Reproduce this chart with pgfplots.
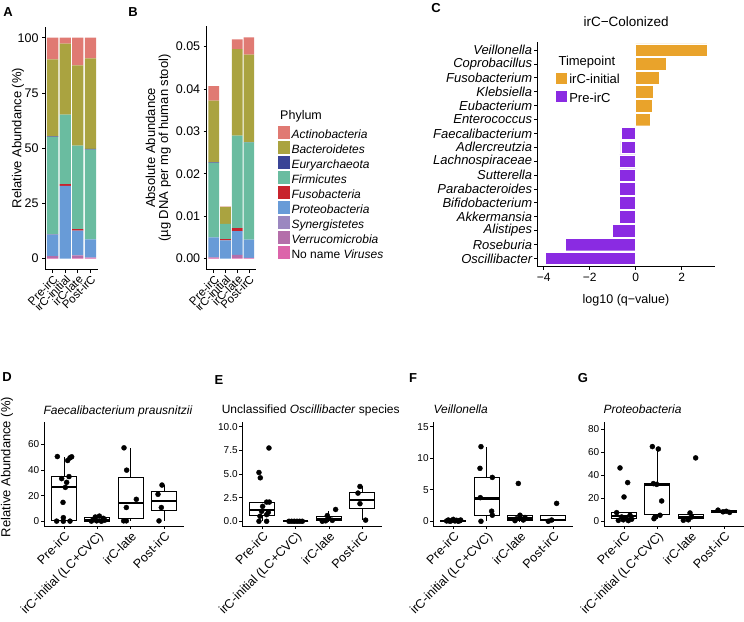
\documentclass[border=0pt]{standalone}
\usepackage{pgfplots}
\pgfplotsset{compat=1.18}
\usepgfplotslibrary{statistics}
\usepackage{fontspec}
\setmainfont{Liberation Sans}
\newcommand\fs[1]{\fontsize{#1}{#1}\selectfont}

\definecolor{actino}{HTML}{E07A73}
\definecolor{bacter}{HTML}{AAA340}
\definecolor{eury}{HTML}{3A4496}
\definecolor{firmi}{HTML}{6ABCA0}
\definecolor{fuso}{HTML}{C8232D}
\definecolor{proteo}{HTML}{689BD7}
\definecolor{synerg}{HTML}{9B87C0}
\definecolor{verru}{HTML}{B46EAA}
\definecolor{virus}{HTML}{DC64AA}
\definecolor{orng}{HTML}{E9A32B}
\definecolor{purp}{HTML}{8A2BE2}

\pgfplotsset{
  gg/.style={
    scale only axis, anchor=south west,
    axis x line*=bottom, axis y line*=left,
    axis line style={black, line width=0.9pt, -},
    tick align=outside, major tick length=3pt,
    tick style={black, line width=0.8pt},
    /pgf/number format/assume math mode=true,
    label style={font=\fs{13}},
  },
  bottom/.style={
    gg, width=140pt, height=104pt, xmin=0.4, xmax=4.6,
    xtick={1,2,3,4}, xticklabels={Pre-irC,irC-initial (LC+CVC),irC-late,Post-irC},
    xticklabel style={rotate=45, anchor=north east, font=\fs{12.5}, inner sep=1pt},
    yticklabel style={font=\fs{10}, inner sep=1.5pt},
    boxplot/draw direction=y,
    boxplot/every median/.style={line width=2.2pt},
  },
  bx/.style={boxplot prepared={#1, box extend=0.75, whisker extend=0}, draw=black, fill=white, line width=0.95pt, solid},
  pts/.style={only marks, mark=*, mark size=2.5pt, black},
}

\begin{document}
\begin{tikzpicture}
\useasboundingbox (0pt,0pt) rectangle (744pt,621pt);

% ---------- A ----------
\begin{axis}[gg, at={(45pt,351.3pt)}, width=53pt, height=243pt,
  xmin=0.4, xmax=4.6, ymin=-5, ymax=105,
  ybar stacked, bar width=0.9,
  xtick={1,2,3,4}, xticklabels={Pre-irC,irC-initial,irC-late,Post-irC},
  xticklabel style={rotate=45, anchor=north east, font=\fs{11.5}, inner sep=1pt},
  ytick={0,25,50,75,100}, yticklabel style={font=\fs{12.5}},
  ylabel={Relative Abundance (\%)},
  ylabel style={at={(axis description cs:-0.51,0.542)}, anchor=center},
]
\addplot[fill=virus, draw=none] coordinates {(1,0.2) (2,0) (3,0.3) (4,0.5)};
\addplot[fill=verru, draw=none] coordinates {(1,1.0) (2,0) (3,1.2) (4,0)};
\addplot[fill=synerg, draw=none] coordinates {(1,0) (2,0) (3,0) (4,0)};
\addplot[fill=proteo, draw=none] coordinates {(1,9.8) (2,33.0) (3,11.2) (4,8.2)};
\addplot[fill=fuso, draw=none] coordinates {(1,0.1) (2,0.7) (3,0.7) (4,0)};
\addplot[fill=firmi, draw=none] coordinates {(1,44.0) (2,31.5) (3,37.8) (4,40.7)};
\addplot[fill=eury, draw=none] coordinates {(1,0.3) (2,0) (3,0) (4,0.3)};
\addplot[fill=bacter, draw=none] coordinates {(1,34.8) (2,32.1) (3,36.3) (4,41.0)};
\addplot[fill=actino, draw=none] coordinates {(1,9.8) (2,2.7) (3,12.5) (4,9.3)};
\end{axis}

% ---------- B ----------
\begin{axis}[gg, at={(206.7pt,351.3pt)}, width=49.3pt, height=243.4pt,
  xmin=0.4, xmax=4.6, ymin=-0.0026, ymax=0.0548,
  ybar stacked, bar width=0.9,
  xtick={1,2,3,4}, xticklabels={Pre-irC,irC-initial,irC-late,Post-irC},
  xticklabel style={rotate=45, anchor=north east, font=\fs{11.5}, inner sep=1pt},
  ytick={0,0.01,0.02,0.03,0.04,0.05}, scaled y ticks=false,
  yticklabel style={font=\fs{12.5}, /pgf/number format/.cd, fixed, fixed zerofill, precision=2},
  ylabel={Absolute Abundance\\(µg DNA per mg of human stool)},
  ylabel style={at={(axis description cs:-0.98,0.5)}, anchor=center, align=center},
  reverse legend, legend cell align=left,
  legend image code/.code={\fill[#1] (0pt,-4pt) rectangle (12pt,8.5pt);},
  legend style={at={(axis description cs:1.432,0.59)}, anchor=north west,
    draw=none, fill=none, font=\fs{12}, row sep=-0.6pt, inner sep=0pt},
]
\addplot[fill=virus, draw=none] coordinates {(1,0.0001) (2,0) (3,0.0002) (4,0.0002)};
\addlegendentry{No name \textit{Viruses}}
\addplot[fill=verru, draw=none] coordinates {(1,0.0002) (2,0) (3,0.0007) (4,0)};
\addlegendentry{\textit{Verrucomicrobia}}
\addplot[fill=synerg, draw=none] coordinates {(1,0) (2,0) (3,0) (4,0)};
\addlegendentry{\textit{Synergistetes}}
\addplot[fill=proteo, draw=none] coordinates {(1,0.0047) (2,0.0043) (3,0.0056) (4,0.0043)};
\addlegendentry{\textit{Proteobacteria}}
\addplot[fill=fuso, draw=none] coordinates {(1,0) (2,0.0003) (3,0.0007) (4,0)};
\addlegendentry{\textit{Fusobacteria}}
\addplot[fill=firmi, draw=none] coordinates {(1,0.0176) (2,0.0036) (3,0.0218) (4,0.0229)};
\addlegendentry{\textit{Firmicutes}}
\addplot[fill=eury, draw=none] coordinates {(1,0.0001) (2,0) (3,0) (4,0.0001)};
\addlegendentry{\textit{Euryarchaeota}}
\addplot[fill=bacter, draw=none] coordinates {(1,0.0146) (2,0.0040) (3,0.0204) (4,0.0206)};
\addlegendentry{\textit{Bacteroidetes}}
\addplot[fill=actino, draw=none] coordinates {(1,0.0034) (2,0.0001) (3,0.0023) (4,0.0041)};
\addlegendentry{\textit{Actinobacteria}}
\end{axis}
\node[anchor=west, font=\fs{12.5}] at (276.7pt,504.3pt) {Phylum};

% ---------- C ----------
\begin{axis}[gg, at={(537.3pt,354.3pt)}, width=177.7pt, height=225pt,
  xmin=-4.28, xmax=3.45, ymin=0.4, ymax=16.6,
  xbar, bar width=0.9,
  xtick={-4,-2,0,2}, xticklabels={−4,−2,0,2}, xticklabel style={font=\fs{12}},
  ytick={1,...,16},
  yticklabels={Oscillibacter,Roseburia,Alistipes,Akkermansia,Bifidobacterium,Parabacteroides,Sutterella,Lachnospiraceae,Adlercreutzia,Faecalibacterium,Enterococcus,Eubacterium,Klebsiella,Fusobacterium,Coprobacillus,Veillonella},
  yticklabel style={font=\fs{13}\itshape, inner sep=2pt},
  title={irC−Colonized},
  title style={at={(axis description cs:0.5,1.064)}, anchor=center, yshift=0pt, font=\fs{13.5}},
  xlabel={log10 (q−value)},
  xlabel style={at={(axis description cs:0.499,-0.148)}, anchor=center, font=\fs{12.5}},
  legend cell align=left,
  legend image code/.code={\fill[#1] (0pt,-4pt) rectangle (12.4pt,7.7pt);},
  legend style={at={(axis description cs:0.0957,0.8667)}, anchor=north west,
    draw=none, fill=none, font=\fs{13}, row sep=3pt, inner sep=0pt},
]
\addplot[fill=orng, draw=white, line width=0.4pt, bar shift=0pt] coordinates {
  (3.10,16) (1.33,15) (1.04,14) (0.75,13) (0.73,12) (0.65,11)};
\addlegendentry{irC-initial}
\addplot[fill=purp, draw=white, line width=0.4pt, bar shift=0pt] coordinates {
  (-0.62,10) (-0.65,9) (-0.70,8) (-0.70,7) (-0.72,6) (-0.72,5) (-0.72,4) (-1.01,3) (-3.06,2) (-3.94,1)};
\addlegendentry{Pre-irC}
\end{axis}
\node[anchor=west, font=\fs{13}] at (555pt,559.3pt) {Timepoint};

% ---------- D ----------
\begin{axis}[bottom, at={(44pt,95pt)}, ymin=-3.5, ymax=77.5, ytick={0,20,40,60},
  ylabel={Relative Abundance (\%)},
  ylabel style={at={(axis description cs:-0.264,0.567)}, anchor=center},
]
\addplot[bx={draw position=1, lower whisker=0, lower quartile=0.5, median=27, upper quartile=35, upper whisker=50.6}] coordinates {};
\addplot[bx={draw position=2, lower whisker=0, lower quartile=0.3, median=1.2, upper quartile=2.8, upper whisker=4.2}] coordinates {};
\addplot[bx={draw position=3, lower whisker=0.5, lower quartile=2.6, median=14.2, upper quartile=34.6, upper whisker=57.4}] coordinates {};
\addplot[bx={draw position=4, lower whisker=0.5, lower quartile=8.3, median=16, upper quartile=23.3, upper whisker=28.4}] coordinates {};
\addplot[pts] coordinates {
  (0.80,50.6) (1.11,47.5) (1.18,49.6) (1.23,50.4) (0.93,33.4) (1.15,35) (1.08,30.5) (1.04,26.6) (0.97,14.9) (0.78,0.3) (0.98,3) (0.98,0.2) (1.18,0.3)
  (1.82,0.3) (1.88,1.5) (1.94,3.5) (1.98,0.5) (2.06,4.2) (2.12,0.2) (2.18,2.5) (2.22,1.0)
  (2.80,57.4) (2.88,40) (2.87,10.9) (3.17,17.3) (2.79,0.5) (2.87,0.5)
  (3.94,28.4) (3.82,21.2) (3.92,10.9) (3.85,0.5)};
\end{axis}

% ---------- E ----------
\begin{axis}[bottom, at={(242.3pt,95pt)}, ymin=-0.5, ymax=10.5, ytick={0,2.5,5,7.5,10},
  yticklabel style={/pgf/number format/.cd, fixed, fixed zerofill, precision=1},
]
\addplot[bx={draw position=1, lower whisker=0, lower quartile=0.63, median=1.23, upper quartile=2.03, upper whisker=2.03}] coordinates {};
\addplot[bx={draw position=2, lower whisker=0, lower quartile=0, median=0, upper quartile=0, upper whisker=0}] coordinates {};
\addplot[bx={draw position=3, lower whisker=0, lower quartile=0.05, median=0.2, upper quartile=0.5, upper whisker=1.05}] coordinates {};
\addplot[bx={draw position=4, lower whisker=0.12, lower quartile=1.4, median=2.28, upper quartile=3.09, upper whisker=3.68}] coordinates {};
\addplot[pts] coordinates {
  (1.20,7.75) (0.90,5.16) (0.94,4.6) (1.13,2.03) (1.21,2.03) (1.01,1.58) (0.98,1.05) (0.93,0.53) (1.13,0.7) (0.90,0) (1.13,0) (1.18,0.95)
  (1.80,0) (1.88,0) (1.96,0) (2.04,0) (2.12,0) (2.20,0)
  (2.80,0) (2.90,0.05) (3.00,0.3) (3.10,0.1) (3.20,1.25) (2.95,0.6)
  (3.93,3.68) (3.87,2.98) (3.93,1.86) (4.10,0.12)};
\end{axis}

% ---------- F ----------
\begin{axis}[bottom, at={(433.3pt,95pt)}, ymin=-0.75, ymax=15.75, ytick={0,5,10,15}]
\addplot[bx={draw position=1, lower whisker=0, lower quartile=0.02, median=0.08, upper quartile=0.15, upper whisker=0.3}] coordinates {};
\addplot[bx={draw position=2, lower whisker=0, lower quartile=0.96, median=3.6, upper quartile=6.96, upper whisker=11.8}] coordinates {};
\addplot[bx={draw position=3, lower whisker=0, lower quartile=0.1, median=0.45, upper quartile=0.9, upper whisker=0.96}] coordinates {};
\addplot[bx={draw position=4, lower whisker=0, lower quartile=0.05, median=0.2, upper quartile=0.85, upper whisker=0.9}] coordinates {};
\addplot[pts] coordinates {
  (0.80,0.05) (0.85,0.2) (0.90,0) (0.95,0.1) (1.00,0.3) (1.05,0.05) (1.10,0.15) (1.15,0) (1.20,0.1) (1.22,0.2)
  (1.83,11.84) (1.80,8.4) (2.17,6.96) (1.81,3.75) (2.15,1.6) (2.17,0.96) (1.83,0)
  (2.95,6.0) (3.00,0.96) (2.85,0.1) (2.90,0.4) (3.10,0.2) (3.15,0.6)
  (4.10,2.84) (3.85,0) (3.95,0.2)};
\end{axis}

% ---------- G ----------
\begin{axis}[bottom, at={(604pt,95pt)}, ymin=-4.4, ymax=86.6, ytick={0,20,40,60,80}]
\addplot[bx={draw position=1, lower whisker=0.3, lower quartile=2, median=4.4, upper quartile=7.3, upper whisker=7.3}] coordinates {};
\addplot[bx={draw position=2, lower whisker=2, lower quartile=5.5, median=32, upper quartile=32.5, upper whisker=65}] coordinates {};
\addplot[bx={draw position=3, lower whisker=0.6, lower quartile=2, median=3.5, upper quartile=5.8, upper whisker=7}] coordinates {};
\addplot[bx={draw position=4, lower whisker=7, lower quartile=7.4, median=8.2, upper quartile=9.3, upper whisker=10}] coordinates {};
\addplot[pts] coordinates {
  (0.88,46.4) (1.11,33.6) (1.00,21) (0.78,7.3) (0.93,3.5) (1.18,5) (0.83,0.5) (0.98,1) (1.13,0.3) (1.23,1.5) (1.06,2.5)
  (1.85,65.1) (2.03,63) (1.88,32.7) (1.98,32) (2.13,17.5) (1.93,3.5) (2.08,5) (1.90,2)
  (3.15,55.2) (2.98,7) (2.78,0.6) (2.93,1) (3.03,3.5)
  (3.82,9.5) (3.97,8) (4.17,7.5) (4.07,8.5)};
\end{axis}

% titles and panel letters
\node[anchor=west, font=\fs{12}\itshape] at (40pt,210pt) {Faecalibacterium prausnitzii};
\node[anchor=west, font=\fs{12}] at (218.3pt,211pt) {Unclassified \textit{Oscillibacter} species};
\node[anchor=west, font=\fs{12}\itshape] at (430pt,212pt) {Veillonella};
\node[anchor=west, font=\fs{12}\itshape] at (600pt,212pt) {Proteobacteria};

\node[font=\fs{13}\bfseries] at (8pt,609pt) {A};
\node[font=\fs{13}\bfseries] at (133pt,609pt) {B};
\node[font=\fs{13}\bfseries] at (436pt,613pt) {C};
\node[font=\fs{13}\bfseries] at (7pt,244pt) {D};
\node[font=\fs{13}\bfseries] at (219pt,241pt) {E};
\node[font=\fs{13}\bfseries] at (413pt,243pt) {F};
\node[font=\fs{13}\bfseries] at (583pt,243pt) {G};
\end{tikzpicture}
\end{document}
